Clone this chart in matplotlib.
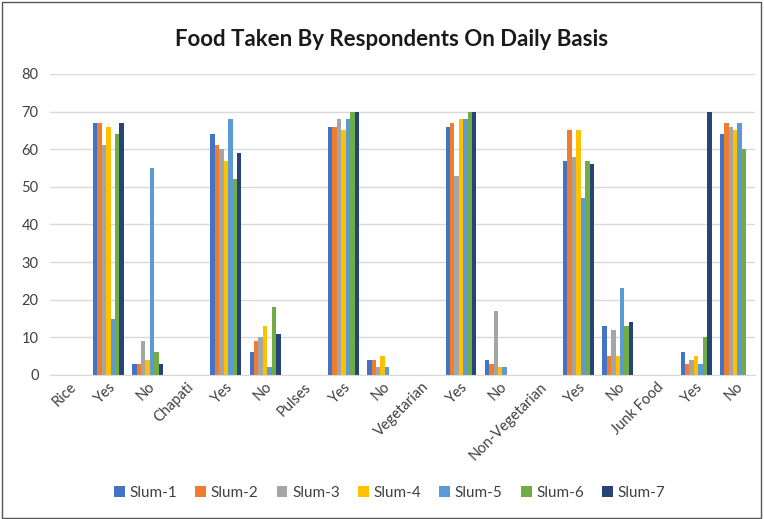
import numpy as np
import matplotlib.pyplot as plt
from matplotlib.patches import Rectangle

plt.rcParams['font.family'] = ['Lato', 'DejaVu Sans']

categories = ['Rice', 'Yes', 'No', 'Chapati', 'Yes', 'No', 'Pulses', 'Yes', 'No',
              'Vegetarian', 'Yes', 'No', 'Non-Vegetarian', 'Yes', 'No',
              'Junk Food', 'Yes', 'No']
series = ['Slum-1', 'Slum-2', 'Slum-3', 'Slum-4', 'Slum-5', 'Slum-6', 'Slum-7']

slum1 = [0, 67, 3, 0, 64, 6, 0, 66, 4, 0, 66, 4, 0, 57, 13, 0, 6, 64]
slum2 = [0, 67, 3, 0, 61, 9, 0, 66, 4, 0, 67, 3, 0, 65, 5, 0, 3, 67]
slum3 = [0, 61, 9, 0, 60, 10, 0, 68, 2, 0, 53, 17, 0, 58, 12, 0, 4, 66]
slum4 = [0, 66, 4, 0, 57, 13, 0, 65, 5, 0, 68, 2, 0, 65, 5, 0, 5, 65]
slum5 = [0, 15, 55, 0, 68, 2, 0, 68, 2, 0, 68, 2, 0, 47, 23, 0, 3, 67]
slum6 = [0, 64, 6, 0, 52, 18, 0, 70, 0, 0, 70, 0, 0, 57, 13, 0, 10, 60]
slum7 = [0, 67, 3, 0, 59, 11, 0, 70, 0, 0, 70, 0, 0, 56, 14, 0, 70, 0]
values = [slum1, slum2, slum3, slum4, slum5, slum6, slum7]

colors = ['#4472C4', '#ED7D31', '#A5A5A5', '#FFC000', '#5B9BD5', '#70AD47', '#264478']

fig = plt.figure(figsize=(7.64, 5.19), dpi=100)
ax = fig.add_axes([0.065, 0.2775, 0.923, 0.58])

x = np.arange(len(categories))
group = 0.79
w = group / len(series)
for i, (name, vals) in enumerate(zip(series, values)):
    ax.bar(x - group / 2 + w * (i + 0.5), vals, w, color=colors[i], label=name)

ax.set_xlim(-0.5, len(categories) - 0.5)
ax.set_ylim(0, 80)
ax.set_yticks(range(0, 81, 10))
ax.yaxis.grid(True, color='#D9D9D9', linewidth=1)
ax.set_axisbelow(True)
for s in ['top', 'right', 'left']:
    ax.spines[s].set_visible(False)
ax.spines['bottom'].set_color('#D9D9D9')
ax.tick_params(axis='both', length=0, labelsize=10.5, colors='#404040')
ax.tick_params(axis='y', pad=8)
ax.set_xticks(x)
ax.set_xticklabels(categories, rotation=45, ha='right', rotation_mode='anchor')

# title centred on the whole figure, like the original
fig.text(0.513, 0.923, 'Food Taken By Respondents On Daily Basis', fontsize=16,
         fontweight='bold', color='#1a1a1a', ha='center', va='center')

fig.legend(loc='lower center', bbox_to_anchor=(0.51, 0.01), ncol=7, frameon=False,
           fontsize=11, handlelength=0.7, handleheight=0.7, columnspacing=1.2,
           handletextpad=0.3, labelcolor='#404040')

fig.patches.append(Rectangle((0.002, 0.002), 0.994, 0.994, transform=fig.transFigure,
                             fill=False, edgecolor='#555555', linewidth=1))

fig.savefig('out.png', dpi=100)
